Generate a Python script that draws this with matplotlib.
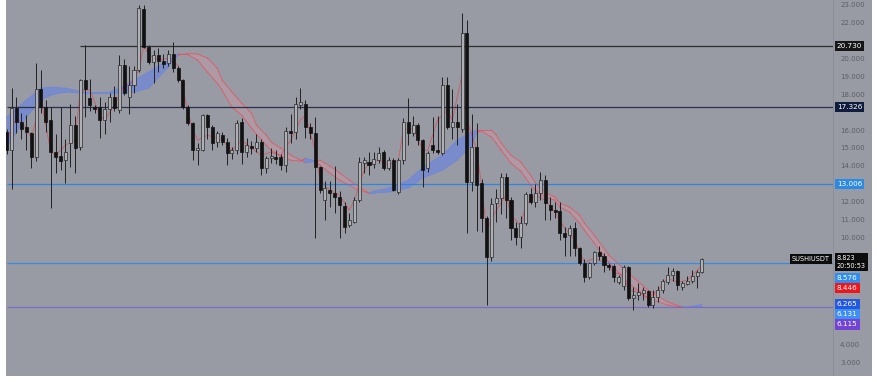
import numpy as np
import matplotlib
matplotlib.use("Agg")
from matplotlib import pyplot as plt

# candles, one per bar
opens = [15.9, 14.9, 17.25, 16.5, 16.2, 15.85, 14.5, 18.35, 17.3, 16.6,
         14.8, 14.6, 14.35, 15.3, 16.3, 15.1, 18.8, 17.8, 17.3, 17.3,
         16.6, 17.2, 17.9, 17.15, 19.65, 17.9, 18.55, 19.4, 22.8, 20.7,
         19.85, 20.2, 19.9, 19.75, 20.3, 19.5, 18.8, 17.3, 16.4, 14.9,
         14.9, 16.85, 16.2, 15.35, 15.75, 15.35, 14.75, 14.9, 16.45, 14.8,
         15.15, 15.0, 15.35, 13.9, 14.45, 14.5, 14.5, 14.05, 16.0, 15.9,
         17.45, 17.5, 16.2, 15.85, 13.95, 12.1, 12.65, 12.5, 12.3, 11.8,
         10.7, 10.9, 12.1, 14.2, 14.25, 14.1, 14.35, 14.8, 13.9, 14.35,
         12.55, 14.35, 16.5, 15.85, 16.3, 15.45, 13.9, 15.2, 14.9, 14.75,
         18.55, 16.2, 16.5, 16.1, 21.45, 13.1, 15.1, 13.05, 11.1, 8.9,
         11.95, 12.2, 13.4, 12.1, 10.55, 10.05, 10.8, 12.45, 12.0, 12.5,
         13.25, 11.85, 11.55, 11.5, 10.25, 10.15, 10.55, 9.4, 8.6, 7.8,
         8.6, 9.2, 9.0, 8.5, 8.4, 7.5, 7.3, 8.35, 6.62, 6.8,
         6.9, 7.0, 6.23, 6.67, 7.07, 7.52, 7.91, 8.13, 7.24, 7.4,
         7.57, 7.85, 8.07]
highs = [16.1, 18.4, 17.9, 17.0, 16.85, 15.9, 19.8, 19.4, 17.7, 17.3,
         15.8, 17.3, 15.5, 17.5, 16.8, 18.9, 20.8, 18.9, 17.4, 17.9,
         17.6, 18.1, 18.5, 20.2, 20.0, 19.6, 19.6, 23.0, 23.0, 20.8,
         20.5, 20.6, 20.3, 20.5, 20.95, 19.6, 18.9, 17.4, 16.5, 15.3,
         16.95, 16.95, 16.3, 16.0, 15.9, 15.6, 15.1, 16.6, 16.7, 15.6,
         15.4, 15.8, 15.5, 14.6, 15.0, 14.9, 14.7, 16.2, 16.9, 17.9,
         18.4, 17.7, 16.4, 16.75, 14.0, 13.2, 13.2, 14.0, 12.6, 12.0,
         11.4, 12.3, 14.5, 14.5, 14.8, 14.8, 15.1, 14.9, 14.5, 14.45,
         14.45, 16.7, 17.8, 16.8, 16.4, 15.55, 14.85, 16.75, 16.8, 19.0,
         19.0, 18.3, 17.5, 22.55, 22.2, 16.95, 16.4, 13.3, 11.2, 12.2,
         12.7, 13.6, 13.6, 12.3, 10.9, 11.2, 12.55, 12.8, 13.0, 13.7,
         13.5, 12.3, 12.0, 12.0, 10.6, 10.7, 10.9, 9.5, 8.8, 8.65,
         9.25, 9.55, 9.15, 8.6, 8.55, 7.9, 8.5, 8.43, 7.24, 7.46,
         7.24, 7.07, 7.07, 7.3, 7.7, 8.36, 8.3, 8.19, 7.6, 7.85,
         8.19, 8.19, 8.85]
lows = [14.7, 12.7, 15.85, 15.5, 14.9, 13.9, 14.3, 17.0, 15.9, 11.65,
        13.6, 13.8, 13.05, 13.95, 13.6, 14.9, 16.75, 17.1, 17.0, 15.6,
        15.8, 16.5, 17.1, 17.0, 18.0, 16.9, 18.1, 19.3, 20.6, 19.7,
        18.65, 19.3, 19.5, 19.6, 19.3, 18.7, 17.2, 16.3, 14.35, 14.05,
        14.85, 15.5, 14.9, 15.1, 15.2, 14.05, 14.4, 14.7, 14.1, 14.5,
        14.7, 14.8, 13.5, 13.6, 14.2, 14.1, 13.8, 13.7, 15.3, 15.5,
        17.2, 15.6, 15.5, 9.97, 12.5, 10.98, 11.7, 11.4, 10.0, 10.25,
        10.6, 10.8, 12.0, 13.6, 13.5, 13.9, 14.2, 13.8, 13.8, 12.6,
        12.45, 14.15, 15.2, 15.7, 15.2, 12.85, 13.7, 14.75, 14.7, 14.65,
        16.1, 15.5, 15.2, 15.9, 10.25, 12.6, 10.4, 10.3, 6.23, 8.7,
        10.9, 11.3, 11.1, 9.9, 9.6, 9.4, 10.7, 11.9, 11.7, 12.1,
        11.0, 11.0, 11.1, 9.9, 8.95, 9.0, 9.0, 8.5, 7.55, 7.7,
        8.5, 8.75, 8.1, 8.2, 7.5, 7.4, 7.1, 6.5, 5.95, 6.51,
        6.51, 6.12, 6.06, 6.4, 6.9, 7.4, 7.6, 7.07, 7.07, 7.35,
        7.46, 7.18, 8.05]
closes = [14.9, 17.25, 16.5, 16.1, 15.9, 14.5, 18.35, 17.3, 16.5, 14.8,
          14.5, 14.3, 14.8, 16.3, 15.0, 18.8, 18.35, 17.4, 17.2, 16.6,
          17.2, 17.9, 17.25, 19.65, 18.1, 18.55, 19.4, 22.85, 20.7, 19.85,
          20.2, 19.9, 19.7, 20.3, 19.5, 18.8, 17.3, 16.4, 14.9, 15.0,
          16.85, 16.2, 15.3, 15.85, 15.35, 14.75, 14.9, 16.4, 14.8, 15.2,
          15.0, 15.35, 13.9, 14.45, 14.6, 14.4, 14.05, 16.0, 15.85, 17.5,
          17.6, 16.2, 15.85, 13.95, 12.65, 12.8, 12.5, 12.3, 11.85, 10.6,
          11.0, 12.1, 14.25, 14.35, 14.05, 14.4, 14.75, 13.9, 14.35, 12.65,
          14.35, 16.5, 15.85, 16.3, 15.45, 13.8, 14.75, 14.9, 14.8, 18.55,
          16.2, 16.5, 16.2, 21.45, 13.1, 15.1, 12.95, 11.1, 8.9, 11.9,
          12.2, 13.4, 12.1, 10.55, 10.05, 10.8, 12.45, 12.0, 12.5, 13.25,
          11.95, 11.55, 11.45, 10.25, 10.05, 10.55, 9.4, 8.6, 7.8, 8.6,
          9.2, 9.0, 8.45, 8.35, 7.8, 7.8, 8.35, 6.62, 6.79, 6.98,
          7.07, 6.23, 6.67, 7.07, 7.57, 7.91, 8.13, 7.35, 7.46, 7.57,
          7.85, 8.07, 8.823]

# moving-average cloud, sampled at these bars
band_idx = [0, 4, 7, 9, 12, 16, 21, 23, 26, 29, 33, 35, 37, 39, 41, 43, 44, 46,
            48, 50, 51, 53, 54, 56, 58, 60, 61, 63, 64, 66, 68, 70, 72, 74, 75,
            78, 82, 85, 89, 92, 95, 96, 97, 99, 100, 101, 103, 105, 107, 108,
            110, 112, 113, 115, 117, 118, 120, 123, 127, 131, 135, 138, 139, 142]
band_fast = [16.75, 17.7, 18.37, 18.43, 18.37, 18.15, 18.15, 18.37, 18.82, 19.27,
             19.94, 20.28, 20.25, 19.94, 19.27, 18.65, 18.26, 17.31, 16.86, 16.13,
             15.8, 15.18, 14.9, 14.57, 14.34, 14.29, 14.45, 14.3, 14.06, 13.62,
             13.22, 12.94, 12.66, 12.5, 12.61, 12.78, 13.22, 13.95, 14.62, 15.46,
             15.91, 16.02, 15.97, 15.63, 15.29, 14.9, 14.17, 13.73, 12.94, 12.66,
             12.27, 12.1, 11.71, 11.43, 10.81, 10.42, 9.7, 8.63, 7.46, 6.62,
             6.23, 6.12, 6.13, 6.265]
band_slow = [15.07, 16.75, 17.7, 17.98, 18.15, 18.09, 18.09, 18.09, 18.15, 18.37,
             19.55, 20.22, 20.3, 20.28, 20.05, 19.49, 18.82, 18.15, 17.53, 16.97,
             16.3, 15.74, 15.35, 15.01, 14.62, 14.34, 14.2, 14.25, 14.34, 14.01,
             13.62, 13.22, 12.83, 12.5, 12.5, 12.55, 12.78, 13.34, 13.78, 14.34,
             15.18, 15.86, 16.02, 16.02, 15.74, 15.29, 14.62, 14.23, 13.5, 13.06,
             12.55, 12.27, 11.94, 11.71, 11.26, 10.81, 10.14, 9.03, 8.02, 7.07,
             6.4, 6.12, 6.11, 6.131]

# fast red average
ema_idx = [0, 2, 4, 5, 7, 8, 9, 10, 12, 14, 15, 17, 19, 20, 22, 24, 25, 27, 28,
           29, 31, 33, 35, 36, 38, 39, 41, 44, 46, 48, 50, 52, 54, 56, 58, 60,
           61, 63, 64, 66, 68, 70, 71, 73, 74, 76, 78, 80, 81, 83, 85, 86, 88,
           90, 91, 93, 94, 96, 97, 98, 100, 102, 103, 105, 106, 108, 110, 112,
           114, 116, 118, 120, 122, 124, 126, 127, 129, 131, 133, 135, 137, 139, 142]
ema_val = [15.46, 16.69, 16.13, 15.57, 17.7, 16.3, 14.79, 14.62, 15.18, 15.46,
           18.26, 18.26, 16.86, 16.58, 17.42, 18.54, 18.54, 19.38, 20.78, 20.22,
           19.94, 20.05, 19.66, 18.26, 16.02, 15.46, 15.74, 15.46, 14.9, 15.46,
           15.01, 14.62, 14.79, 14.62, 15.46, 16.58, 16.86, 14.9, 13.22, 12.66,
           12.38, 11.54, 12.1, 13.78, 14.17, 14.34, 14.06, 14.34, 16.02, 16.13,
           14.9, 14.9, 16.58, 17.14, 16.58, 19.1, 16.58, 14.9, 12.94, 10.42,
           11.54, 12.38, 11.26, 10.7, 11.82, 12.38, 12.1, 11.43, 10.53, 9.86,
           8.63, 8.85, 8.63, 8.07, 7.9, 7.06, 6.95, 6.61, 7.06, 7.73,
           7.51, 7.62, 8.446]

# horizontal levels
level_vals = [20.730, 17.326, 13.006, 8.576, 6.115]
level_start = [15, 0, 0, 0, 0]
level_colors = ['#2e2e2e', '#2b2f4a', '#2f86e2', '#3a8be4', '#7a6cc4']

# right-hand price tags
tag_vals = [8.823, 8.576, 8.446, 6.265, 6.131, 6.115]
tag_colors = ['#0c0c0c', '#2f8ff0', '#f0141c', '#2458df', '#3d8ff5', '#7343d4']
ticker = 'SUSHIUSDT'
clock = '20:50:53'
tick_vals = list(range(3, 24))

W, H = 878, 382
bg = '#989ba3'
ytop, ybot = 23.303, 2.262
px = (ytop - ybot) / 376.0   # price per pixel

fig = plt.figure(figsize=(W / 100, H / 100), dpi=100)
fig.patch.set_facecolor('white')

ax = fig.add_axes([6 / W, 6 / H, (833 - 6) / W, 376 / H])
ax.set_facecolor(bg)
ax2 = fig.add_axes([833 / W, 6 / H, (872 - 833) / W, 376 / H])
ax2.set_facecolor(bg)
for a in (ax, ax2):
    a.set_ylim(ybot, ytop)
    a.set_xticks([])
    a.set_yticks([])
    for s in a.spines.values():
        s.set_visible(False)
ax2.set_xlim(0, 1)
ax2.axvline(0, color='#8a8d95', lw=0.6)

# x: bar i sits at 6.7 + 4.896*i px
dx = 4.896
ax.set_xlim((6 - 6.7) / dx, (833 - 6.7) / dx)

# horizontal levels
for v, st, col in zip(level_vals, level_start, level_colors):
    ax.hlines(v, st, 200, color=col, lw=0.9, zorder=2)

# cloud
bi = np.array(band_idx)
bf = np.array(band_fast)
bs = np.array(band_slow)
ax.fill_between(bi, bf, bs, where=bf >= bs, interpolate=True,
                color='#6f86d8', alpha=0.75, lw=0, zorder=1)
ax.fill_between(bi, bf, bs, where=bf < bs, interpolate=True,
                color='#c99aa8', alpha=0.45, lw=0, zorder=1)
for k in range(len(bi) - 1):
    up = bf[k] >= bs[k] and bf[k + 1] >= bs[k + 1]
    col = '#6f86d8' if up else '#e8505e'
    a_ = 0.8 if up else 0.75
    ax.plot(bi[k:k + 2], bf[k:k + 2], color=col, lw=0.7, alpha=a_, zorder=1.5)
    ax.plot(bi[k:k + 2], bs[k:k + 2], color=col, lw=0.7, alpha=a_, zorder=1.5)

ax.plot(ema_idx, ema_val, color='#e2404e', lw=0.6, alpha=0.7, zorder=1.6)

# candles
o = np.array(opens)
c = np.array(closes)
hi = np.array(highs)
lo = np.array(lows)
x = np.arange(len(o))
up = c >= o
ax.vlines(x, lo, hi, color='#222222', lw=0.7, zorder=3)
body_lo = np.minimum(o, c)
body_h = np.maximum(np.abs(c - o), 0.06)
ax.bar(x[up], body_h[up], bottom=body_lo[up], width=0.62,
       color='#aeb0b6', edgecolor='#2a2a2a', linewidth=0.5, zorder=4)
ax.bar(x[~up], body_h[~up], bottom=body_lo[~up], width=0.62,
       color='#121212', edgecolor='#121212', linewidth=0.5, zorder=4)


def tag(y, s, fc, z=5):
    ax2.text(0.1, y, s, fontsize=5.2, color='white', va='center', ha='left',
             zorder=z, bbox=dict(boxstyle='square,pad=0.3', fc=fc, ec='none'))


tag(level_vals[0], '%.3f' % level_vals[0], '#161616')
tag(level_vals[1], '%.3f' % level_vals[1], '#0f1c3e')
tag(level_vals[2], '%.3f' % level_vals[2], '#2b8ae6')

# stacked tags near the current price
tag_pos = []
prev = None
gap = 0
for v, col in zip(tag_vals, tag_colors):
    pos = v if prev is None else min(v, prev - gap)
    if prev is None:
        ax2.text(0.1, pos + 4.2 * px, '%.3f\n%s' % (v, clock), fontsize=4.7,
                 color='white', va='top', ha='left', linespacing=1.45, zorder=6,
                 bbox=dict(boxstyle='square,pad=0.3', fc=col, ec='none'))
        gap = 19 * px
    else:
        tag(pos, '%.3f' % v, col)
        gap = 10 * px
    tag_pos.append(pos)
    prev = pos

# price scale, ticks hidden where a tag sits on them
covered = list(level_vals[:3]) + tag_pos + [tag_pos[0] - 9 * px]
for t in tick_vals:
    if min(abs(t - cv) for cv in covered) < 8 * px:
        continue
    ax2.text(0.18, t, '%.3f' % t, fontsize=5, color='#5b5e67',
             va='center', ha='left', zorder=1)

# ticker box left of the scale
ax.text((829.5 - 6.7) / dx, tag_vals[0], ticker, fontsize=4.8,
        color='white', va='center', ha='right', zorder=6,
        bbox=dict(boxstyle='square,pad=0.3', fc='#0c0c0c', ec='none'))

fig.savefig('out.png', dpi=100, facecolor='white')
